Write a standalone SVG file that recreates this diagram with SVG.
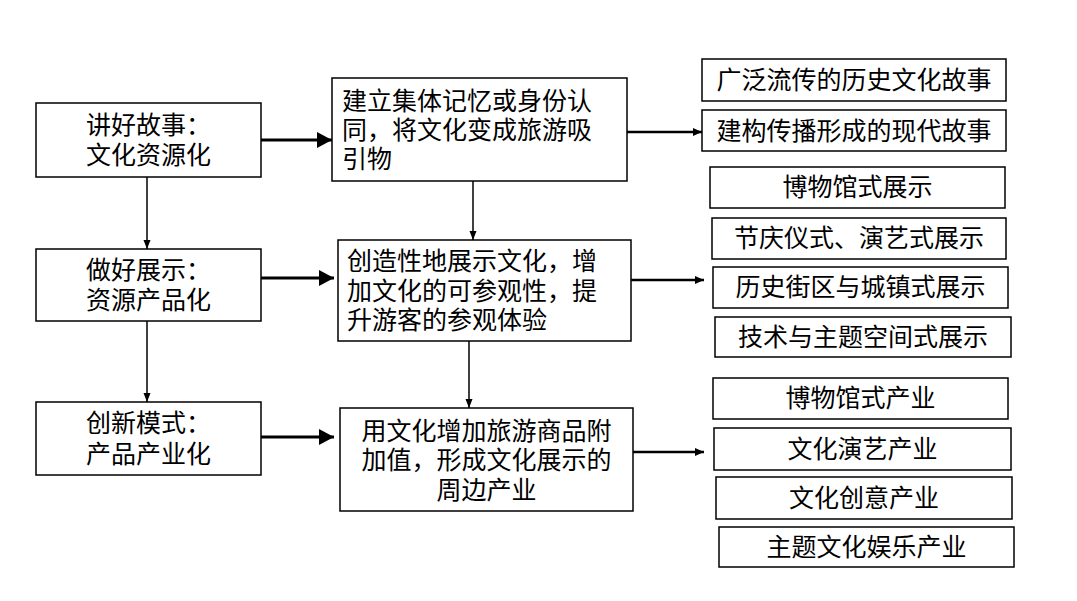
<svg xmlns="http://www.w3.org/2000/svg" width="1077" height="601" viewBox="0 0 1077 601">
<style>
  .box { fill: #ffffff; stroke: #000000; stroke-width: 1.5; }
  text { font-family: "Liberation Sans", "Noto Sans CJK SC", sans-serif; font-size: 25px; fill: #000000; }
  .c { text-anchor: middle; }
  .big { stroke: #000; stroke-width: 3; fill: none; }
  .mid { stroke: #000; stroke-width: 2.5; fill: none; }
  .thin { stroke: #000; stroke-width: 1.5; fill: none; }
</style>
<defs>
  <marker id="ahBig" markerUnits="userSpaceOnUse" markerWidth="16" markerHeight="18" refX="15" refY="8" orient="auto">
    <path d="M0,0 L15,8 L0,16 z" fill="#000"/>
  </marker>
  <marker id="ahMid" markerUnits="userSpaceOnUse" markerWidth="10" markerHeight="10" refX="9" refY="4" orient="auto">
    <path d="M0,0 L9,4 L0,8 z" fill="#000"/>
  </marker>
  <marker id="ahThin" markerUnits="userSpaceOnUse" markerWidth="10" markerHeight="8" refX="9" refY="3.5" orient="auto">
    <path d="M0,0 L9,3.5 L0,7 z" fill="#000"/>
  </marker>
</defs>
<rect width="1077" height="601" fill="#ffffff"/>

<g id="connectors">
  <line class="big" x1="261" y1="140" x2="332" y2="140" marker-end="url(#ahBig)"/>
  <line class="big" x1="261" y1="278" x2="334" y2="278" marker-end="url(#ahBig)"/>
  <line class="big" x1="261" y1="437" x2="334" y2="437" marker-end="url(#ahBig)"/>
  <line class="thin" x1="147" y1="177" x2="147" y2="249" marker-end="url(#ahThin)"/>
  <line class="thin" x1="147" y1="321" x2="147" y2="402" marker-end="url(#ahThin)"/>
  <line class="thin" x1="473" y1="181" x2="473" y2="240" marker-end="url(#ahThin)"/>
  <line class="thin" x1="469" y1="341" x2="469" y2="408" marker-end="url(#ahThin)"/>
  <line class="mid" x1="627" y1="132" x2="702" y2="132" marker-end="url(#ahMid)"/>
  <line class="mid" x1="631" y1="280" x2="704" y2="280" marker-end="url(#ahMid)"/>
  <line class="mid" x1="633" y1="452" x2="704" y2="452" marker-end="url(#ahMid)"/>
</g>

<g id="n-story">
  <rect class="box" x="36" y="103" width="225" height="74"/>
  <text class="c" x="148.5" y="134">讲好故事：</text>
  <text class="c" x="148.5" y="164">文化资源化</text>
</g>
<g id="n-display">
  <rect class="box" x="36" y="249" width="225" height="72"/>
  <text class="c" x="148.5" y="279">做好展示：</text>
  <text class="c" x="148.5" y="309">资源产品化</text>
</g>
<g id="n-innov">
  <rect class="box" x="36" y="402" width="225" height="73"/>
  <text class="c" x="148.5" y="432">创新模式：</text>
  <text class="c" x="148.5" y="463">产品产业化</text>
</g>

<g id="m-1">
  <rect class="box" x="332" y="78" width="295" height="103"/>
  <text x="342" y="110">建立集体记忆或身份认</text>
  <text x="342" y="139">同，将文化变成旅游吸</text>
  <text x="342" y="168">引物</text>
</g>
<g id="m-2">
  <rect class="box" x="338" y="240" width="293" height="101"/>
  <text x="347" y="270">创造性地展示文化，增</text>
  <text x="347" y="300">加文化的可参观性，提</text>
  <text x="347" y="329">升游客的参观体验</text>
</g>
<g id="m-3">
  <rect class="box" x="340" y="408" width="293" height="103"/>
  <text class="c" x="486.5" y="440">用文化增加旅游商品附</text>
  <text class="c" x="486.5" y="469">加值，形成文化展示的</text>
  <text class="c" x="486.5" y="499">周边产业</text>
</g>

<g id="r-1">
  <rect class="box" x="702" y="59" width="304" height="42"/>
  <text class="c" x="854" y="89">广泛流传的历史文化故事</text>
</g>
<g id="r-2">
  <rect class="box" x="702" y="110" width="304" height="41"/>
  <text class="c" x="854" y="140">建构传播形成的现代故事</text>
</g>
<g id="r-3">
  <rect class="box" x="710" y="167" width="295" height="41"/>
  <text class="c" x="857.5" y="196">博物馆式展示</text>
</g>
<g id="r-4">
  <rect class="box" x="712" y="218" width="294" height="41"/>
  <text class="c" x="859" y="247">节庆仪式、演艺式展示</text>
</g>
<g id="r-5">
  <rect class="box" x="713" y="267" width="295" height="41"/>
  <text class="c" x="860.5" y="296">历史街区与城镇式展示</text>
</g>
<g id="r-6">
  <rect class="box" x="715" y="317" width="296" height="40"/>
  <text class="c" x="863" y="346">技术与主题空间式展示</text>
</g>
<g id="r-7">
  <rect class="box" x="713" y="378" width="295" height="41"/>
  <text class="c" x="860.5" y="407">博物馆式产业</text>
</g>
<g id="r-8">
  <rect class="box" x="714" y="428" width="297" height="42"/>
  <text class="c" x="862.5" y="458">文化演艺产业</text>
</g>
<g id="r-9">
  <rect class="box" x="716" y="477" width="296" height="42"/>
  <text class="c" x="864" y="507">文化创意产业</text>
</g>
<g id="r-10">
  <rect class="box" x="719" y="527" width="295" height="40"/>
  <text class="c" x="866.5" y="556">主题文化娱乐产业</text>
</g>
</svg>
